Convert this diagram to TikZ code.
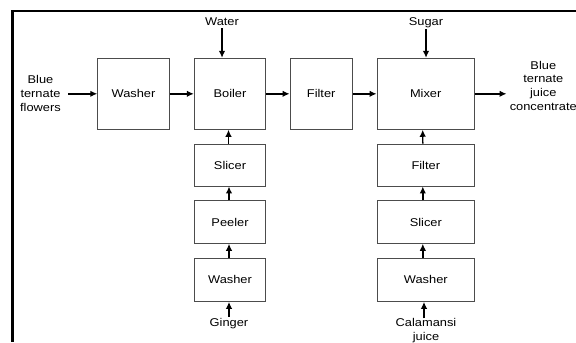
\documentclass[tikz,border=0pt]{standalone}
\usepackage{fontspec}
\setmainfont{Liberation Sans}[FakeStretch=1.14]
\usetikzlibrary{arrows.meta}
\begin{document}
\begin{tikzpicture}[x=1bp,y=-1bp,
  box/.style={draw=black!70, line width=0.9bp, inner sep=0pt,
    font=\fontsize{11.3}{13.9}\selectfont},
  lbl/.style={align=center, inner sep=0pt, font=\fontsize{11.3}{13.9}\selectfont},
  flow/.style={-{Latex[length=7bp,width=6.5bp]}, line width=1.4bp}]
\useasboundingbox (0,0) rectangle (576,342);
\clip (0,0) rectangle (576,342);
\draw[line width=2.5bp] (576,11) -- (12.5,11) -- (12.5,342);

% main row
\node[box, minimum width=71.6bp, minimum height=71bp] (washerA) at (133.5,93.8) {Washer};
\node[box, minimum width=71.4bp, minimum height=71bp] (boiler) at (230,93.8) {Boiler};
\node[box, minimum width=62.3bp, minimum height=71bp] (filterA) at (321.2,93.8) {Filter};
\node[box, minimum width=97.3bp, minimum height=71bp] (mixer) at (425.7,93.8) {Mixer};

% ginger column
\node[box, minimum width=71.4bp, minimum height=42bp] (slicerG) at (230,165) {Slicer};
\node[box, minimum width=71.4bp, minimum height=42.6bp] (peeler) at (230,222) {Peeler};
\node[box, minimum width=71.4bp, minimum height=43.3bp] (washerG) at (230,279.7) {Washer};

% calamansi column
\node[box, minimum width=97bp, minimum height=42bp] (filterC) at (425.8,165) {Filter};
\node[box, minimum width=97bp, minimum height=42.6bp] (slicerC) at (425.8,222) {Slicer};
\node[box, minimum width=97bp, minimum height=43.3bp] (washerC) at (425.8,279.7) {Washer};

% labels
\node[lbl, anchor=base] (water) at (222,25.7) {Water};
\node[lbl, anchor=base] (sugar) at (426,25.3) {Sugar};
\node[lbl] (flowers) at (40.5,93.3) {Blue\\ternate\\flowers};
\node[lbl] (product) at (543.3,85.8) {Blue\\ternate\\juice\\concentrate};
\node[lbl, anchor=base] (ginger) at (229,326.7) {Ginger};
\node[lbl, anchor=north] (calamansi) at (426,318.4) {Calamansi\\juice};

% connectors
\draw[flow, shorten <=7bp] (flowers.east |- washerA.west) -- (washerA.west);
\draw[flow] (washerA.east) -- (boiler.west);
\draw[flow] (boiler.east) -- (filterA.west);
\draw[flow] (filterA.east) -- (mixer.west);
\draw[flow, shorten >=3bp] (mixer.east) -- (product.west |- mixer.east);
\draw[flow, shorten <=2bp] (water.south) -- (water.south |- boiler.north);
\draw[flow, shorten <=2bp] ([yshift=1bp]sugar.south) -- (sugar.south |- mixer.north);
\draw[flow] ([xshift=-1.5bp]slicerG.north) -- ([xshift=-1.5bp]boiler.south);
\draw[flow] ([xshift=-1bp]peeler.north) -- ([xshift=-1bp]slicerG.south);
\draw[flow] ([xshift=-1bp]washerG.north) -- ([xshift=-1bp]peeler.south);
\draw[flow] ([yshift=1.5bp]ginger.north) -- (ginger.north |- washerG.south);
\draw[flow] ([xshift=-3bp]filterC.north) -- ([xshift=-3bp]mixer.south);
\draw[flow] ([xshift=-3bp]slicerC.north) -- ([xshift=-3bp]filterC.south);
\draw[flow] ([xshift=-3bp]washerC.north) -- ([xshift=-3bp]slicerC.south);
\draw[flow] ([xshift=-2bp]calamansi.north) -- ([xshift=-2bp]calamansi.north |- washerC.south);
\end{tikzpicture}
\end{document}
